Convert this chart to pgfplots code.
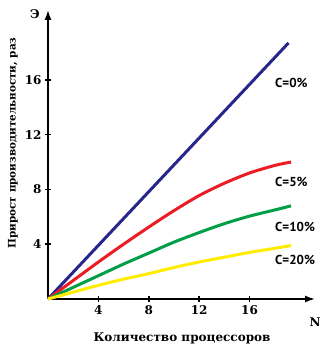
\documentclass[border=0pt]{standalone}
\usepackage{fontspec}
\setmainfont{DejaVu Serif}
\newfontfamily\lblfont{PT Sans}
\usepackage{pgfplots}
\pgfplotsset{compat=1.18}
\usetikzlibrary{arrows.meta}
\definecolor{cblue}{RGB}{38,38,140}
\definecolor{cred}{RGB}{236,28,36}
\definecolor{cgreen}{RGB}{0,158,70}
\definecolor{cyellow}{RGB}{255,236,0}
\begin{document}
\begin{tikzpicture}[x=1pt,y=1pt]
\path[use as bounding box] (0,0) rectangle (327,348);
\begin{axis}[
  at={(48pt,49pt)}, anchor=origin,
  scale only axis, width=267pt, height=289pt,
  xmin=0, xmax=21.2, ymin=0, ymax=21.1,
  axis lines=left,
  axis line style={line width=1.5pt, -{Latex[length=10pt,width=7pt]}},
  xtick={4,8,12,16}, ytick={4,8,12,16},
  tick align=center, major tick length=6pt,
  tick style={line width=1.5pt, black},
  ticklabel style={font=\bfseries\fontsize{12}{14}\selectfont},
  /pgf/number format/assume math mode=true,
  clip=false,
]
\addplot[cblue, line width=3pt] coordinates {(0,0) (19.1,18.7)};
\addplot[cred, line width=3pt, smooth] coordinates {(0,0) (2,1.35) (4,2.7) (6,4.0) (8,5.25) (10,6.45) (12,7.55) (14,8.45) (16,9.2) (18,9.75) (19.3,10.0)};
\addplot[cgreen, line width=3pt, smooth] coordinates {(0,0) (2,0.85) (4,1.7) (6,2.55) (8,3.35) (10,4.15) (12,4.85) (14,5.5) (16,6.05) (18,6.5) (19.3,6.8)};
\addplot[cyellow, line width=3pt, smooth] coordinates {(0,0) (2,0.5) (4,1.0) (6,1.45) (8,1.85) (10,2.3) (12,2.7) (14,3.05) (16,3.4) (18,3.7) (19.3,3.9)};
\end{axis}
\begin{scope}[every node/.style={font=\lblfont\bfseries\fontsize{13}{15}\selectfont, anchor=west, inner sep=0pt}]
\node at (275,265) {C=0\%};
\node at (275,166) {C=5\%};
\node at (275,121) {C=10\%};
\node at (275,88) {C=20\%};
\end{scope}
\node[rotate=90, font=\bfseries\fontsize{10.4}{13}\selectfont, inner sep=0pt] at (13,205) {Прирост производительности, раз};
\node[font=\bfseries\fontsize{12}{14}\selectfont, inner sep=0pt] at (182,10) {Количество процессоров};
\node[font=\bfseries\fontsize{12}{14}\selectfont, inner sep=0pt] at (315,26) {N};
\node[font=\bfseries\fontsize{12}{14}\selectfont, inner sep=0pt] at (35,334) {Э};
\end{tikzpicture}
\end{document}
